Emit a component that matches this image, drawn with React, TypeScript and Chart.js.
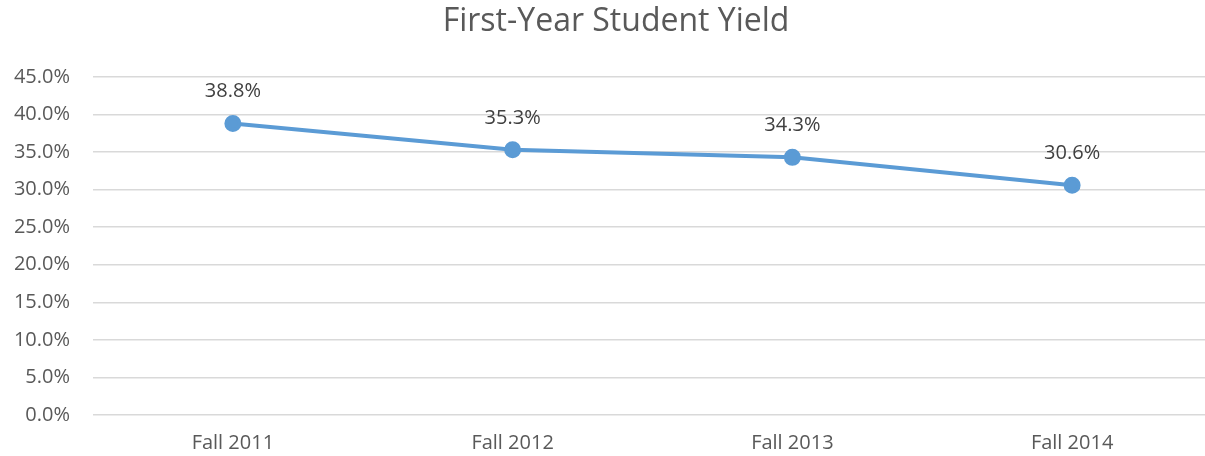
import React, { useEffect, useRef } from "react";
import { Chart, registerables } from "chart.js";

Chart.register(...registerables);

const categories = ["Fall 2011", "Fall 2012", "Fall 2013", "Fall 2014"];
const yieldValues = [38.8, 35.3, 34.3, 30.6];
const chartTitle = "First-Year Student Yield";
const FONT = "'Open Sans', 'Liberation Sans', sans-serif";

const dataLabelPlugin = {
  id: "dataLabels",
  afterDatasetsDraw(chart: any) {
    const ctx = chart.ctx;
    const meta = chart.getDatasetMeta(0);
    ctx.save();
    ctx.font = `20px ${FONT}`;
    ctx.fillStyle = "#404040";
    ctx.textAlign = "center";
    ctx.textBaseline = "middle";
    meta.data.forEach((pt: any, i: number) => {
      ctx.fillText(yieldValues[i].toFixed(1) + "%", pt.x, pt.y - 32);
    });
    ctx.restore();
  },
};

const titlePlugin = {
  id: "customTitle",
  afterDraw(chart: any) {
    const ctx = chart.ctx;
    ctx.save();
    ctx.font = `32px ${FONT}`;
    ctx.fillStyle = "#595959";
    ctx.textAlign = "center";
    ctx.textBaseline = "middle";
    ctx.fillText(chartTitle, 616, 22);
    ctx.restore();
  },
};

export default function App() {
  const ref = useRef<HTMLCanvasElement>(null);
  useEffect(() => {
    const chart = new Chart(ref.current!, {
      type: "line",
      data: {
        labels: categories,
        datasets: [
          {
            data: yieldValues,
            borderColor: "#5b9bd5",
            backgroundColor: "#5b9bd5",
            borderWidth: 4,
            pointRadius: 6.5,
            pointBackgroundColor: "#5b9bd5",
            pointBorderColor: "#5b9bd5",
            tension: 0,
          },
        ],
      },
      options: {
        animation: false,
        responsive: false,
        layout: { padding: { left: 0, right: 20, top: 77, bottom: 0 } },
        plugins: {
          legend: { display: false },
          tooltip: { enabled: false },
          title: { display: false },
        },
        scales: {
          x: {
            offset: true,
            grid: { display: false, drawTicks: false },
            border: { display: false },
            ticks: {
              color: "#595959",
              font: { family: FONT, size: 20 },
              padding: 16,
              maxRotation: 0,
            },
            afterFit: (s: any) => {
              s.height = 41;
            },
          },
          y: {
            min: 0,
            max: 45,
            grid: { color: "#d9d9d9", lineWidth: 1.5, drawTicks: false },
            border: { display: false },
            ticks: {
              stepSize: 5,
              color: "#595959",
              font: { family: FONT, size: 20 },
              padding: 23,
              callback: (v: any) => Number(v).toFixed(1) + "%",
            },
            afterFit: (s: any) => {
              s.width = 93;
            },
          },
        },
      },
      plugins: [dataLabelPlugin, titlePlugin],
    });
    return () => chart.destroy();
  }, []);
  return (
    <div style={{ position: "absolute", left: 0, top: 0, width: 1205, height: 456, overflow: "hidden", background: "#fff" }}>
      <canvas ref={ref} width={1232} height={456} style={{ width: 1232, height: 456, display: "block" }} />
    </div>
  );
}
